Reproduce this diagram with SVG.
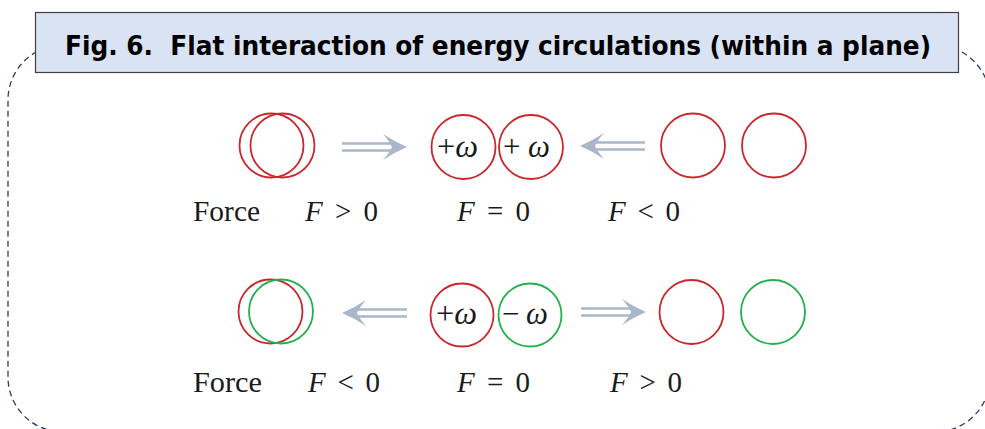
<svg xmlns="http://www.w3.org/2000/svg" width="985" height="429" viewBox="0 0 985 429">
<style>
.frame{fill:none;stroke:#2e3d5c;stroke-width:1.3;stroke-dasharray:6 4}
.title-box{fill:#dae3f3;stroke:#404040;stroke-width:1.2}
.title{font-family:"DejaVu Sans",Verdana,sans-serif;font-weight:bold;font-size:26px;fill:#000}
.red{fill:none;stroke:#c9262d;stroke-width:1.8}
.green{fill:none;stroke:#22b04b;stroke-width:1.8}
.lbl{font-family:"Liberation Serif","Times New Roman",serif;font-size:29px;fill:#1a1a1a}
.om{font-family:"Liberation Serif","Times New Roman",serif;font-size:31px;fill:#1a1a1a}
.it{font-style:italic}
.arr-line{stroke:#a9b6cb;stroke-width:2.5;fill:none}
.arr-head{fill:#a9b6cb}
</style>
<defs>
<g id="arrowR">
<line class="arr-line" x1="-65" y1="-3.4" x2="-10" y2="-3.4"/>
<line class="arr-line" x1="-65" y1="3.4" x2="-10" y2="3.4"/>
<path class="arr-head" d="M0,0 Q-12,-5 -24,-13 Q-17,-5 -15,0 Q-17,5 -24,13 Q-12,5 0,0 Z"/>
</g>
</defs>
<rect class="frame" x="8" y="45" width="982" height="387" rx="55" ry="55"/>
<g id="title">
<rect class="title-box" x="35.5" y="12.5" width="923" height="60"/>
<text class="title" x="65" y="55" textLength="866" lengthAdjust="spacingAndGlyphs" xml:space="preserve">Fig. 6.  Flat interaction of energy circulations (within a plane)</text>
</g>
<g id="connectors">
<use href="#arrowR" transform="translate(407,147)"/>
<use href="#arrowR" transform="translate(580,146) scale(-1,1)"/>
<use href="#arrowR" transform="translate(342,313) scale(-1,1)"/>
<use href="#arrowR" transform="translate(646,312)"/>
</g>
<g id="r1-overlap">
<circle class="red" cx="271.5" cy="145.5" r="32"/>
<circle class="red" cx="282.5" cy="145.5" r="32"/>
</g>
<g id="r1-pair">
<circle class="red" cx="463.5" cy="147" r="32"/>
<circle class="red" cx="531" cy="147" r="32"/>
<text class="om" x="437" y="157" textLength="41" lengthAdjust="spacingAndGlyphs">+<tspan class="it">ω</tspan></text>
<text class="om" x="503" y="157" textLength="47" lengthAdjust="spacing" xml:space="preserve">+ <tspan class="it">ω</tspan></text>
</g>
<g id="r1-apart">
<circle class="red" cx="693" cy="145.5" r="32"/>
<circle class="red" cx="774" cy="145.5" r="32"/>
</g>
<g id="r2-overlap">
<circle class="red" cx="270.5" cy="311.5" r="32"/>
<circle class="green" cx="281" cy="311.5" r="32"/>
</g>
<g id="r2-pair">
<circle class="red" cx="462" cy="315" r="31.5"/>
<circle class="green" cx="530" cy="315" r="31.5"/>
<text class="om" x="436" y="324" textLength="41" lengthAdjust="spacingAndGlyphs">+<tspan class="it">ω</tspan></text>
<text class="om" x="502" y="324" textLength="46" lengthAdjust="spacing" xml:space="preserve">− <tspan class="it">ω</tspan></text>
</g>
<g id="r2-apart">
<circle class="red" cx="691.5" cy="312" r="32"/>
<circle class="green" cx="773" cy="312" r="32"/>
</g>
<g id="labels">
<text class="lbl" x="193" y="221" textLength="67" lengthAdjust="spacingAndGlyphs">Force</text>
<text class="lbl" x="305" y="221" textLength="73" lengthAdjust="spacing"><tspan class="it">F</tspan> &gt; 0</text>
<text class="lbl" x="457" y="221" textLength="73" lengthAdjust="spacing"><tspan class="it">F</tspan> = 0</text>
<text class="lbl" x="608" y="221" textLength="72" lengthAdjust="spacing"><tspan class="it">F</tspan> &lt; 0</text>
<text class="lbl" x="193" y="392" textLength="69" lengthAdjust="spacingAndGlyphs">Force</text>
<text class="lbl" x="308" y="392" textLength="72" lengthAdjust="spacing"><tspan class="it">F</tspan> &lt; 0</text>
<text class="lbl" x="457" y="392" textLength="73" lengthAdjust="spacing"><tspan class="it">F</tspan> = 0</text>
<text class="lbl" x="610" y="392" textLength="72" lengthAdjust="spacing"><tspan class="it">F</tspan> &gt; 0</text>
</g>
</svg>
